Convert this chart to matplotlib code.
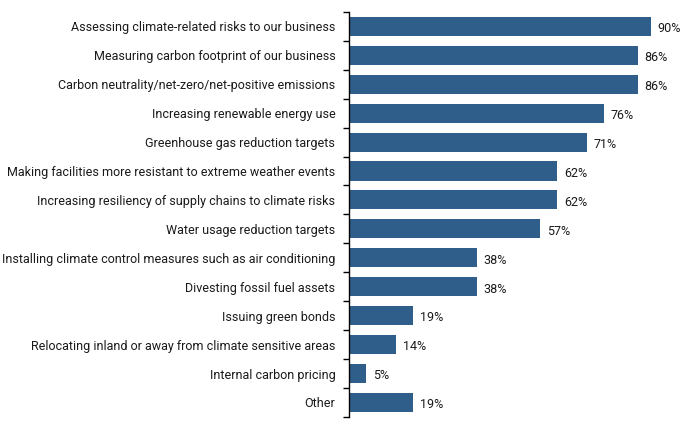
import matplotlib.pyplot as plt
import numpy as np

categories = [
    'Assessing climate-related risks to our business',
    'Measuring carbon footprint of our business',
    'Carbon neutrality/net-zero/net-positive emissions',
    'Increasing renewable energy use',
    'Greenhouse gas reduction targets',
    'Making facilities more resistant to extreme weather events',
    'Increasing resiliency of supply chains to climate risks',
    'Water usage reduction targets',
    'Installing climate control measures such as air conditioning',
    'Divesting fossil fuel assets',
    'Issuing green bonds',
    'Relocating inland or away from climate sensitive areas',
    'Internal carbon pricing',
    'Other',
]
values = [90, 86, 86, 76, 71, 62, 62, 57, 38, 38, 19, 14, 5, 19]

plt.rcParams['font.family'] = ['Roboto', 'DejaVu Sans']

fig = plt.figure(figsize=(6.9, 4.25), dpi=100)
ax = fig.add_axes([0.506, 0.019, 0.486, 0.953])

y = np.arange(len(categories))
ax.barh(y, values, height=0.66, color='#2F5E8B')
for yi, v in zip(y, values):
    ax.text(v + 2, yi + 0.08, f'{v}%', va='center', ha='left', fontsize=9.0, color='#1a1a1a')

ax.set_ylim(len(categories) - 0.5, -0.5)
ax.set_xlim(0, 100)
ax.set_yticks(y)
ax.set_yticklabels(categories, fontsize=9.0, color='#1a1a1a')
ax.tick_params(axis='y', which='major', length=0, pad=10)
ax.set_yticks(np.arange(-0.5, len(categories)), minor=True)
ax.tick_params(axis='y', which='minor', length=4, width=1, direction='out')
ax.set_xticks([])
for s in ['top', 'right', 'bottom']:
    ax.spines[s].set_visible(False)
ax.spines['left'].set_linewidth(1)

plt.savefig('out.png', dpi=100)
